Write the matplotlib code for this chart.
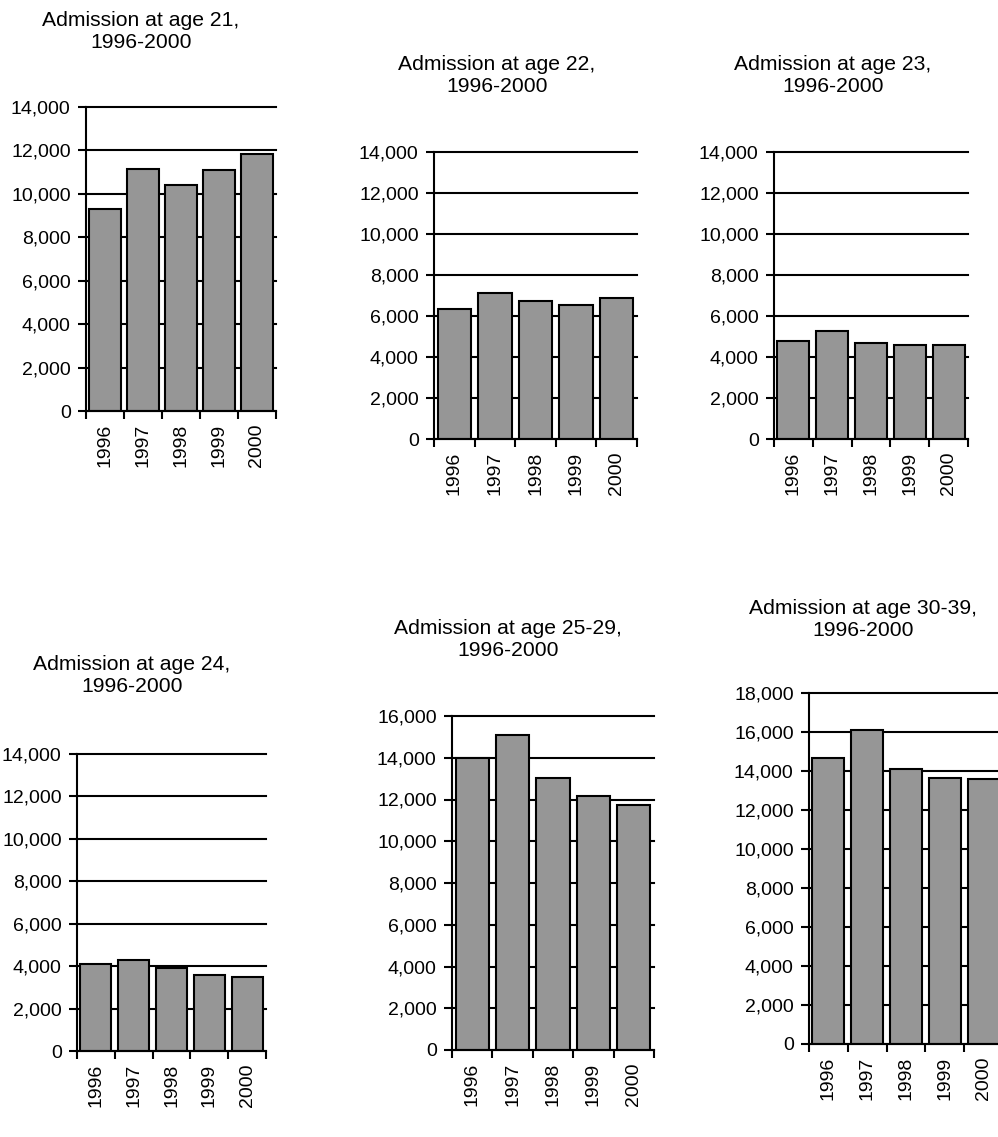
import matplotlib
matplotlib.use('Agg')
import matplotlib.pyplot as plt
from matplotlib.ticker import StrMethodFormatter

plt.rcParams['font.family'] = ['Liberation Sans', 'DejaVu Sans']

years = ['1996', '1997', '1998', '1999', '2000']
age21 = [9300, 11150, 10400, 11100, 11850]
age22 = [6350, 7100, 6750, 6550, 6900]
age23 = [4800, 5280, 4700, 4600, 4600]
age24 = [4080, 4270, 3890, 3560, 3500]
age25_29 = [14000, 15080, 13050, 12170, 11740]
age30_39 = [14670, 16100, 14090, 13630, 13580]

titles = ['Admission at age 21,\n1996-2000', 'Admission at age 22,\n1996-2000',
          'Admission at age 23,\n1996-2000', 'Admission at age 24,\n1996-2000',
          'Admission at age 25-29,\n1996-2000', 'Admission at age 30-39,\n1996-2000']
series = [age21, age22, age23, age24, age25_29, age30_39]
ymax = [14000, 14000, 14000, 14000, 16000, 18000]

W, H = 998, 1137
# axes boxes in pixels: left, right, top, bottom ; title centre x, y
boxes = [(86, 276, 107, 411), (434, 637, 152, 439), (774, 968, 152, 439),
         (77, 266, 754, 1051), (452, 654, 716, 1050), (809, 1003, 693, 1044)]
title_pos = [(141, 32), (497, 76), (833, 76), (132, 676), (508, 639), (863, 620)]

fig = plt.figure(figsize=(W / 100, H / 100), dpi=100)

for vals, title, top, (l, r, t, b), (tx, ty) in zip(series, titles, ymax, boxes, title_pos):
    ax = fig.add_axes([l / W, 1 - b / H, (r - l) / W, (b - t) / H])
    x = list(range(1, len(years) + 1))
    ax.bar(x, vals, width=0.82, color='#969696', edgecolor='black', linewidth=1.5, zorder=3)
    ax.set_xlim(0.5, len(years) + 0.5)
    ax.set_ylim(0, top)
    ax.set_yticks(range(0, top + 1, 2000))
    ax.yaxis.set_major_formatter(StrMethodFormatter('{x:,.0f}'))
    ax.yaxis.grid(True, color='black', linewidth=1.5, zorder=0)
    ax.set_axisbelow(True)
    # keep the top gridline at full thickness
    for gl in ax.get_ygridlines():
        gl.set_clip_on(False)

    # category boundaries carry the tick marks, labels sit at centres
    ax.set_xticks([i + 0.5 for i in range(0, len(years) + 1)])
    ax.set_xticklabels([])
    ax.set_xticks(x, minor=True)
    ax.set_xticklabels(years, minor=True, rotation=90, fontsize=14)
    ax.tick_params(axis='x', which='major', direction='out', length=6, width=1.5)
    ax.tick_params(axis='x', which='minor', length=0, pad=9)
    ax.tick_params(axis='y', direction='out', length=6, width=1.5, labelsize=14, pad=5)

    for side in ['top', 'right']:
        ax.spines[side].set_visible(False)
    for side in ['left', 'bottom']:
        ax.spines[side].set_linewidth(1.5)
        ax.spines[side].set_zorder(4)

    fig.text(tx / W, 1 - ty / H, title, ha='center', va='center', fontsize=15.2,
             linespacing=1.2)

fig.savefig('out.png', dpi=100)
